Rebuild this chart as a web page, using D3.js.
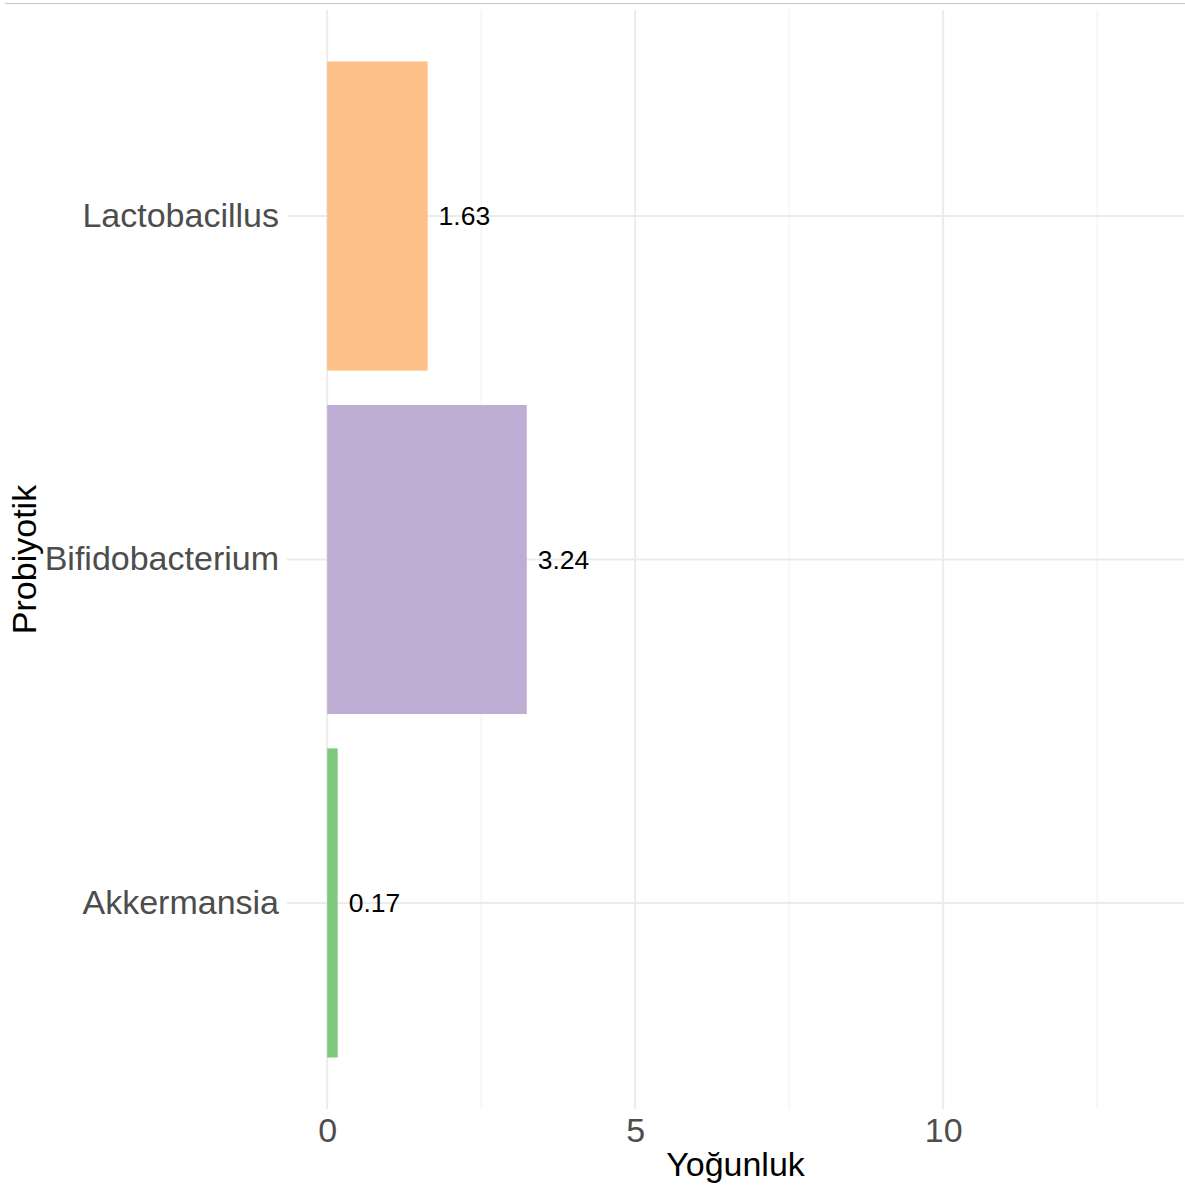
<!DOCTYPE html>
<html>
<head>
<meta charset="utf-8">
<script src="https://cdn.jsdelivr.net/npm/d3@7"></script>
<style>
  html, body { margin: 0; padding: 0; background: #fff; }
  svg { display: block; font-family: Arial, "Liberation Sans", sans-serif; }
</style>
</head>
<body>
<svg id="chart" width="1185" height="1189"></svg>
<script>
// Probiotic density per genus
const categories = ["Lactobacillus", "Bifidobacterium", "Akkermansia"];
const values = [1.63, 3.24, 0.17];
const colors = ["#FDC086", "#BEAED4", "#7FC97F"];
const xTicks = [0, 5, 10];
const xMinorTicks = [2.5, 7.5, 12.5];
const xTitle = "Yoğunluk";
const yTitle = "Probiyotik";

const W = 1185, H = 1189;
const panel = { left: 287, right: 1184, top: 10, bottom: 1109 };

const svg = d3.select("#chart");

// frame line along the top edge
svg.append("line")
  .attr("x1", 5).attr("x2", W).attr("y1", 3.5).attr("y2", 3.5)
  .attr("stroke", "#c6c6c6").attr("stroke-width", 1.2);

const x = d3.scaleLinear().domain([-0.6525, 13.91]).range([panel.left, panel.right]);
const y = d3.scaleBand().domain(categories)
  .range([panel.top, panel.bottom]).paddingInner(0.1).paddingOuter(0.15);

const g = svg.append("g");

// minor grid
g.selectAll(".minor").data(xMinorTicks).join("line")
  .attr("x1", d => x(d)).attr("x2", d => x(d))
  .attr("y1", panel.top).attr("y2", panel.bottom)
  .attr("stroke", "#f1f1f1").attr("stroke-width", 1.1);

// major vertical grid
g.selectAll(".majx").data(xTicks).join("line")
  .attr("x1", d => x(d)).attr("x2", d => x(d))
  .attr("y1", panel.top).attr("y2", panel.bottom)
  .attr("stroke", "#ebebeb").attr("stroke-width", 2);

// major horizontal grid
g.selectAll(".majy").data(categories).join("line")
  .attr("x1", panel.left).attr("x2", panel.right)
  .attr("y1", d => y(d) + y.bandwidth() / 2).attr("y2", d => y(d) + y.bandwidth() / 2)
  .attr("stroke", "#ebebeb").attr("stroke-width", 2);

// bars
g.selectAll(".bar").data(categories).join("rect")
  .attr("x", x(0))
  .attr("y", d => y(d))
  .attr("width", (d, i) => x(values[i]) - x(0))
  .attr("height", y.bandwidth())
  .attr("fill", (d, i) => colors[i]);

// value labels
g.selectAll(".val").data(categories).join("text")
  .attr("x", (d, i) => x(values[i]) + 11)
  .attr("y", d => y(d) + y.bandwidth() / 2)
  .attr("dy", "0.35em")
  .attr("font-size", 26.5)
  .attr("fill", "#000")
  .text((d, i) => values[i].toFixed(2));

// y axis labels
const yAxis = d3.axisLeft(y).tickSize(0).tickPadding(8);
const ya = svg.append("g").attr("transform", `translate(${panel.left},0)`).call(yAxis);
ya.select(".domain").remove();
ya.selectAll("text").attr("font-size", 34).attr("fill", "#4d4d4d")
  .attr("font-family", "Arial, 'Liberation Sans', sans-serif");

// x axis labels
const xAxis = d3.axisBottom(x).tickValues(xTicks).tickSize(0).tickPadding(9).tickFormat(d3.format("d"));
const xa = svg.append("g").attr("transform", `translate(0,${panel.bottom})`).call(xAxis);
xa.select(".domain").remove();
xa.selectAll("text").attr("font-size", 34).attr("fill", "#4d4d4d")
  .attr("font-family", "Arial, 'Liberation Sans', sans-serif");

// axis titles
svg.append("text")
  .attr("x", (panel.left + panel.right) / 2).attr("y", 1176)
  .attr("text-anchor", "middle").attr("font-size", 34).attr("fill", "#000")
  .text(xTitle);

svg.append("text")
  .attr("transform", `translate(36,${(panel.top + panel.bottom) / 2}) rotate(-90)`)
  .attr("text-anchor", "middle").attr("font-size", 34).attr("fill", "#000")
  .text(yTitle);
</script>
</body>
</html>
